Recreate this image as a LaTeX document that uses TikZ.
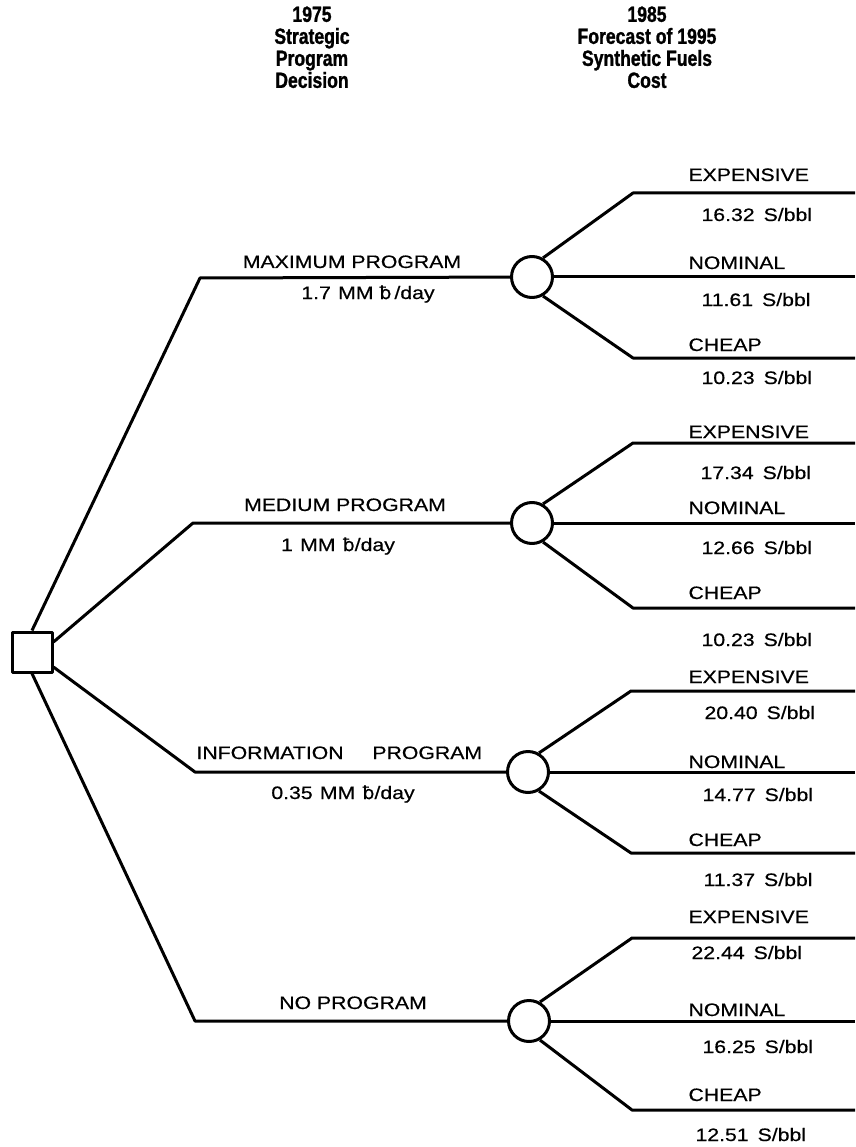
\documentclass[tikz,border=0pt]{standalone}
\usepackage{fontspec}
\setmainfont{Liberation Sans}[FakeStretch=1.18,FakeBold=0.5]
\newfontfamily\hfont{Liberation Sans}[FakeStretch=0.8,FakeBold=1.2]
\newfontfamily\barfont{DejaVu Sans}[FakeStretch=1.05,FakeBold=0.5]
\newcommand{\bbl}{{\barfont ƀ}}
\begin{document}
\begin{tikzpicture}[x=1pt,y=-1pt,
  line width=3pt, line join=round,
  decision/.style={rectangle,draw,minimum size=40pt,inner sep=0pt},
  chance/.style={circle,draw,minimum size=41pt,inner sep=0pt},
  lbl/.style={inner sep=0pt,font=\fontsize{18}{20}\selectfont},
  hdr/.style={inner sep=0pt,align=center,anchor=north,font=\hfont\bfseries\fontsize{22}{22}\selectfont}]
\useasboundingbox (0,0) rectangle (855,1147);

% headers
\node[hdr] (h1) at (312,5) {1975\\Strategic\\Program\\Decision};
\node[hdr] (h2) at (647,5) {1985\\Forecast of 1995\\Synthetic Fuels\\Cost};

% decision node
\node[decision] (dec) at (32,652) {};

% chance nodes
\node[chance] (c1) at (532,277) {};
\node[chance] (c2) at (532,523) {};
\node[chance] (c3) at (528,772) {};
\node[chance] (c4) at (529,1021) {};

% program corners
\coordinate (p1) at (200,278);
\coordinate (p2) at (193,523);
\coordinate (p3) at (195,772);
\coordinate (p4) at (195,1021);

\draw (dec.north) -- (p1) -- (c1);
\draw (dec.25) -- (p2) -- (c2);
\draw (dec.-35) -- (p3) -- (c3);
\draw (dec.south) -- (p4) -- (c4);

% program labels
\node[lbl,anchor=base] (l1) at (352,268) {MAXIMUM PROGRAM};
\node[lbl,anchor=base] (v1) at (368,299) {1.7\hspace{0.4em}MM \bbl\,/day};
\node[lbl,anchor=base] (l2) at (345,511) {MEDIUM PROGRAM};
\node[lbl,anchor=base] (v2) at (338,551) {1\hspace{0.4em}MM\hspace{0.4em}\bbl/day};
\node[lbl,anchor=base west] (l3) at (195,759) {INFORMATION\hspace{1.6em}PROGRAM};
\node[lbl,anchor=base] (v3) at (343,799) {0.35\hspace{0.4em}MM\hspace{0.4em}\bbl/day};
\node[lbl,anchor=base] (l4) at (353,1009) {NO PROGRAM};

% branches: group 1
\coordinate (u1) at (633,193); \coordinate (eu1) at (855,193);
\coordinate (d1) at (633,358); \coordinate (ed1) at (855,358);
\coordinate (em1) at (855,277);
\draw (c1.60) -- (u1) -- (eu1);
\draw (c1) -- (em1);
\draw (c1.-60) -- (d1) -- (ed1);
% group 2
\coordinate (u2) at (633,443); \coordinate (eu2) at (855,443);
\coordinate (d2) at (633,608); \coordinate (ed2) at (855,608);
\coordinate (em2) at (855,523);
\draw (c2.60) -- (u2) -- (eu2);
\draw (c2) -- (em2);
\draw (c2.-60) -- (d2) -- (ed2);
% group 3
\coordinate (u3) at (631,691); \coordinate (eu3) at (855,691);
\coordinate (d3) at (631,853); \coordinate (ed3) at (855,853);
\coordinate (em3) at (855,772);
\draw (c3.60) -- (u3) -- (eu3);
\draw (c3) -- (em3);
\draw (c3.-60) -- (d3) -- (ed3);
% group 4
\coordinate (u4) at (632,938); \coordinate (eu4) at (855,938);
\coordinate (d4) at (632,1110); \coordinate (ed4) at (855,1110);
\coordinate (em4) at (855,1021);
\draw (c4.60) -- (u4) -- (eu4);
\draw (c4) -- (em4);
\draw (c4.-60) -- (d4) -- (ed4);

% outcome labels
\tikzset{ol/.style={lbl,anchor=base west}, ov/.style={lbl,anchor=base west}}
\node[ol] (x1) at (687,181) {EXPENSIVE};
\node[ov] (xv1) at (700,221) {16.32\hspace{0.5em}S/bbl};
\node[ol] (n1) at (687,269) {NOMINAL};
\node[ov] (nv1) at (700,306) {11.61\hspace{0.5em}S/bbl};
\node[ol] (k1) at (687,351) {CHEAP};
\node[ov] (kv1) at (700,384) {10.23\hspace{0.5em}S/bbl};

\node[ol] (x2) at (687,438) {EXPENSIVE};
\node[ov] (xv2) at (699,479) {17.34\hspace{0.5em}S/bbl};
\node[ol] (n2) at (687,514) {NOMINAL};
\node[ov] (nv2) at (700,554) {12.66\hspace{0.5em}S/bbl};
\node[ol] (k2) at (687,599) {CHEAP};
\node[ov] (kv2) at (700,646) {10.23\hspace{0.5em}S/bbl};

\node[ol] (x3) at (687,683) {EXPENSIVE};
\node[ov] (xv3) at (703,719) {20.40\hspace{0.5em}S/bbl};
\node[ol] (n3) at (687,768) {NOMINAL};
\node[ov] (nv3) at (701,801) {14.77\hspace{0.5em}S/bbl};
\node[ol] (k3) at (687,846) {CHEAP};
\node[ov] (kv3) at (702,886) {11.37\hspace{0.5em}S/bbl};

\node[ol] (x4) at (687,923) {EXPENSIVE};
\node[ov] (xv4) at (690,959) {22.44\hspace{0.5em}S/bbl};
\node[ol] (n4) at (687,1016) {NOMINAL};
\node[ov] (nv4) at (701,1053) {16.25\hspace{0.5em}S/bbl};
\node[ol] (k4) at (687,1101) {CHEAP};
\node[ov] (kv4) at (694,1141) {12.51\hspace{0.5em}S/bbl};
\end{tikzpicture}
\end{document}
